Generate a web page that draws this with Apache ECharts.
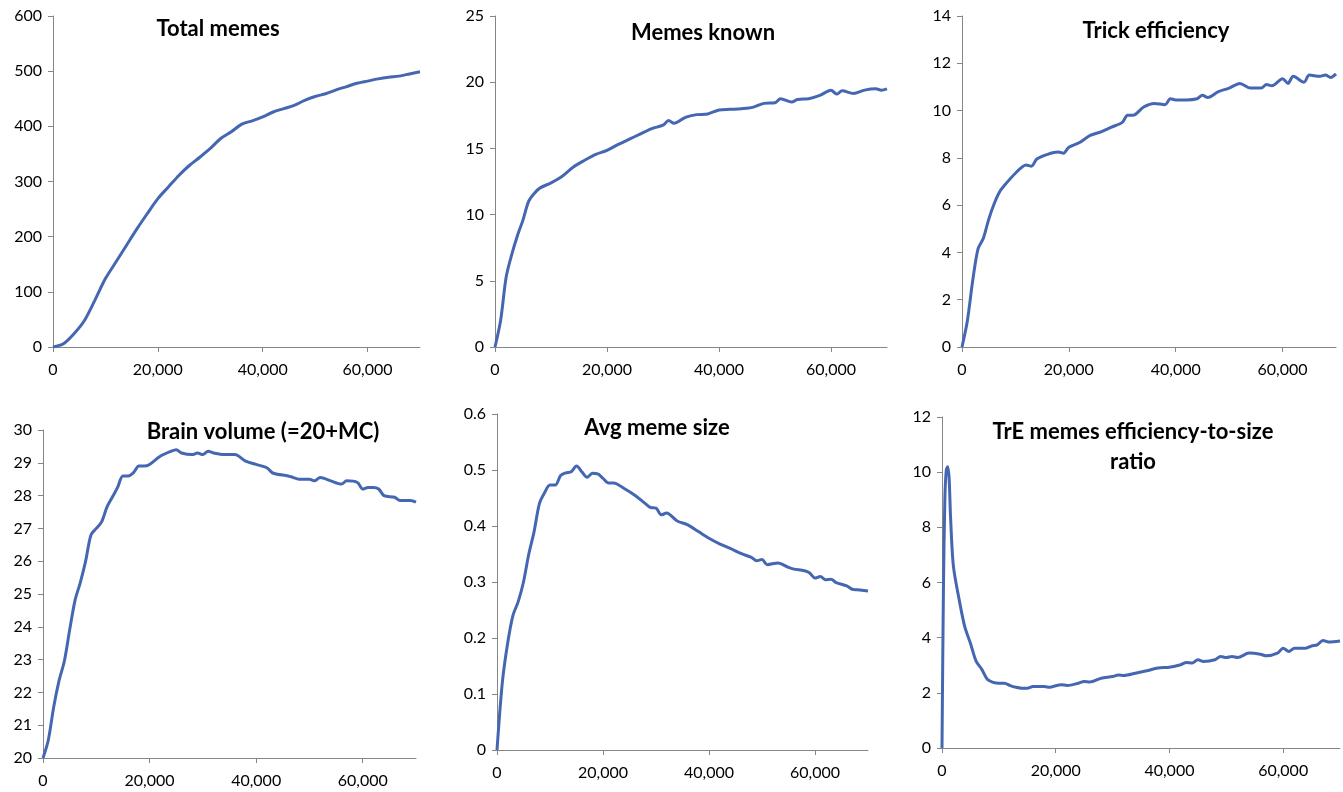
<!DOCTYPE html>
<html>
<head>
<meta charset="utf-8">
<script src="https://cdn.jsdelivr.net/npm/echarts@6/dist/echarts.min.js"></script>
<style>
  html, body { margin: 0; padding: 0; background: #fff; }
  #chart { width: 1343px; height: 792px; }
</style>
</head>
<body>
<div id="chart"></div>
<script>
// x = simulation step, one pair of arrays per panel
const totalX = [0, 2000, 4000, 6000, 8000, 10000, 12000, 14000, 16000, 18000, 20000, 22000, 24000, 26000, 28000, 30000, 32000, 34000, 36000, 38000, 40000, 42000, 44000, 46000, 48000, 50000, 52000, 54000, 56000, 58000, 60000, 62000, 64000, 66000, 68000, 70000];
const totalY = [0, 6, 24, 48, 85, 124, 154, 184, 214, 242, 269, 290, 311, 329, 344, 360, 378, 390, 404, 410, 417, 426, 432, 438, 447, 454, 459, 466, 472, 478, 482, 486, 489, 491, 495, 499];

const knownX = [0, 1000, 2000, 3000, 4000, 5000, 6000, 7000, 8000, 10000, 12000, 14000, 16000, 18000, 20000, 22000, 24000, 26000, 28000, 30000, 31000, 32000, 34000, 36000, 38000, 40000, 42000, 44000, 46000, 48000, 50000, 51000, 53000, 54000, 56000, 58000, 60000, 61000, 62000, 64000, 66000, 68000, 69000, 70000];
const knownY = [0, 2.0, 5.3, 7.0, 8.4, 9.6, 11.0, 11.6, 12.0, 12.4, 12.9, 13.6, 14.1, 14.55, 14.85, 15.3, 15.7, 16.1, 16.5, 16.75, 17.1, 16.9, 17.35, 17.55, 17.6, 17.9, 17.95, 18.0, 18.1, 18.4, 18.45, 18.75, 18.5, 18.7, 18.75, 19.0, 19.4, 19.1, 19.35, 19.15, 19.4, 19.5, 19.4, 19.5];

const trickX = [0, 1000, 2000, 3000, 4000, 5000, 6000, 7000, 8000, 10000, 12000, 13000, 14000, 16000, 18000, 19000, 20000, 22000, 24000, 26000, 28000, 30000, 31000, 32000, 34000, 36000, 38000, 39000, 40000, 42000, 44000, 45000, 46000, 48000, 50000, 52000, 54000, 56000, 57000, 58000, 60000, 61000, 62000, 64000, 65000, 67000, 68000, 69000, 70000];
const trickY = [0, 1.1, 2.8, 4.15, 4.6, 5.4, 6.05, 6.55, 6.85, 7.35, 7.7, 7.65, 7.95, 8.15, 8.25, 8.2, 8.45, 8.65, 8.95, 9.1, 9.3, 9.5, 9.8, 9.8, 10.15, 10.3, 10.25, 10.5, 10.45, 10.45, 10.5, 10.65, 10.55, 10.8, 10.95, 11.15, 10.95, 10.95, 11.1, 11.05, 11.35, 11.15, 11.45, 11.2, 11.5, 11.45, 11.5, 11.4, 11.55];

const brainX = [0, 1000, 2000, 3000, 4000, 5000, 6000, 7000, 8000, 9000, 10000, 11000, 12000, 13000, 14000, 15000, 16000, 17000, 18000, 19000, 20000, 22000, 24000, 25000, 26000, 28000, 29000, 30000, 31000, 32000, 34000, 36000, 38000, 40000, 42000, 43000, 44000, 46000, 47000, 48000, 50000, 51000, 52000, 54000, 56000, 57000, 59000, 60000, 61000, 62000, 63000, 64000, 66000, 67000, 69000, 70000];
const brainY = [20, 20.55, 21.55, 22.35, 22.95, 23.9, 24.8, 25.35, 26.0, 26.8, 27.0, 27.2, 27.65, 27.95, 28.25, 28.6, 28.6, 28.7, 28.9, 28.9, 28.95, 29.2, 29.35, 29.4, 29.3, 29.25, 29.3, 29.25, 29.35, 29.3, 29.25, 29.25, 29.05, 28.95, 28.85, 28.7, 28.65, 28.6, 28.55, 28.5, 28.5, 28.45, 28.55, 28.45, 28.35, 28.45, 28.4, 28.2, 28.25, 28.25, 28.2, 28.0, 27.95, 27.85, 27.85, 27.8];

const sizeX = [0, 1000, 2000, 3000, 4000, 5000, 6000, 7000, 8000, 9000, 10000, 11000, 12000, 13000, 14000, 15000, 16000, 17000, 18000, 19000, 20000, 21000, 22000, 24000, 26000, 28000, 29000, 30000, 31000, 32000, 34000, 36000, 38000, 40000, 42000, 44000, 46000, 48000, 49000, 50000, 51000, 53000, 55000, 56000, 58000, 59000, 60000, 61000, 62000, 63000, 64000, 66000, 67000, 68000, 70000];
const sizeY = [0, 0.12, 0.19, 0.24, 0.265, 0.30, 0.35, 0.39, 0.44, 0.46, 0.473, 0.473, 0.49, 0.495, 0.497, 0.507, 0.497, 0.487, 0.494, 0.493, 0.485, 0.477, 0.477, 0.467, 0.455, 0.44, 0.433, 0.432, 0.42, 0.423, 0.409, 0.402, 0.39, 0.378, 0.368, 0.36, 0.351, 0.344, 0.338, 0.34, 0.331, 0.334, 0.326, 0.323, 0.32, 0.316, 0.307, 0.31, 0.304, 0.305, 0.299, 0.293, 0.287, 0.286, 0.284];

const ratioX = [0, 250, 500, 750, 1000, 1250, 1500, 2000, 3000, 4000, 5000, 6000, 7000, 8000, 9000, 10000, 11000, 12000, 13000, 14000, 15000, 16000, 18000, 19000, 20000, 21000, 22000, 24000, 25000, 26000, 28000, 30000, 31000, 32000, 34000, 36000, 38000, 40000, 42000, 43000, 44000, 45000, 46000, 48000, 49000, 50000, 51000, 52000, 54000, 56000, 57000, 59000, 60000, 61000, 62000, 64000, 65000, 66000, 67000, 68000, 70000];
const ratioY = [0, 5.7, 9.0, 10.07, 10.2, 9.8, 8.4, 6.6, 5.4, 4.4, 3.8, 3.15, 2.85, 2.48, 2.38, 2.35, 2.35, 2.26, 2.2, 2.17, 2.17, 2.23, 2.23, 2.2, 2.26, 2.29, 2.27, 2.35, 2.41, 2.39, 2.53, 2.59, 2.65, 2.63, 2.71, 2.8, 2.9, 2.93, 3.02, 3.1, 3.08, 3.2, 3.14, 3.2, 3.32, 3.28, 3.32, 3.28, 3.44, 3.4, 3.34, 3.44, 3.62, 3.5, 3.62, 3.62, 3.7, 3.74, 3.9, 3.84, 3.88];

const panels = [
  { title: "Total memes", x: totalX, y: totalY, max: 600, interval: 100, min: 0,
    grid: { left: 53, top: 16, width: 367, height: 331 }, tx: 218, ty: 14 },
  { title: "Memes known", x: knownX, y: knownY, max: 25, interval: 5, min: 0,
    grid: { left: 495, top: 16, width: 392, height: 331 }, tx: 703, ty: 18 },
  { title: "Trick efficiency", x: trickX, y: trickY, max: 14, interval: 2, min: 0,
    grid: { left: 962, top: 16, width: 374, height: 331 }, tx: 1156, ty: 16 },
  { title: "Brain volume (=20+MC)", x: brainX, y: brainY, max: 30, interval: 1, min: 20,
    grid: { left: 43, top: 430, width: 373, height: 328 }, tx: 263, ty: 417 },
  { title: "Avg meme size", x: sizeX, y: sizeY, max: 0.6, interval: 0.1, min: 0,
    grid: { left: 497, top: 414, width: 371, height: 336 }, tx: 657, ty: 413 },
  { title: "TrE memes efficiency-to-size\nratio", x: ratioX, y: ratioY, max: 12, interval: 2, min: 0,
    grid: { left: 942, top: 417, width: 398, height: 331 }, tx: 1133, ty: 417 }
];

const font = "Lato, 'Open Sans', sans-serif";
const axisGray = "#868686";

const chart = echarts.init(document.getElementById("chart"));
chart.setOption({
  backgroundColor: "#ffffff",
  animation: false,
  title: panels.map(p => ({
    text: p.title,
    left: p.tx,
    top: p.ty,
    padding: 0,
    textAlign: "center",
    textStyle: { fontFamily: font, fontWeight: "bold", fontSize: 22, color: "#000", lineHeight: 30 }
  })),
  grid: panels.map(p => Object.assign({ containLabel: false }, p.grid)),
  xAxis: panels.map((p, i) => ({
    type: "value",
    gridIndex: i,
    min: 0,
    max: 70000,
    interval: 20000,
    axisLine: { show: true, lineStyle: { color: axisGray, width: 1 } },
    axisTick: { show: true, length: 5, lineStyle: { color: axisGray } },
    splitLine: { show: false },
    axisLabel: {
      color: "#000",
      fontFamily: font,
      fontSize: 16,
      margin: 15,
      showMaxLabel: false,
      formatter: v => v.toLocaleString("en-US")
    }
  })),
  yAxis: panels.map((p, i) => ({
    type: "value",
    gridIndex: i,
    min: p.min,
    max: p.max,
    interval: p.interval,
    axisLine: { show: true, lineStyle: { color: axisGray, width: 1 } },
    axisTick: { show: true, length: 5, lineStyle: { color: axisGray } },
    splitLine: { show: false },
    axisLabel: { color: "#000", fontFamily: font, fontSize: 16, margin: 11 }
  })),
  series: panels.map((p, i) => ({
    type: "line",
    xAxisIndex: i,
    yAxisIndex: i,
    data: p.x.map((xv, k) => [xv, p.y[k]]),
    showSymbol: false,
    smooth: 0.3,
    lineStyle: { color: "#4566b1", width: 3 }
  }))
});
</script>
</body>
</html>
